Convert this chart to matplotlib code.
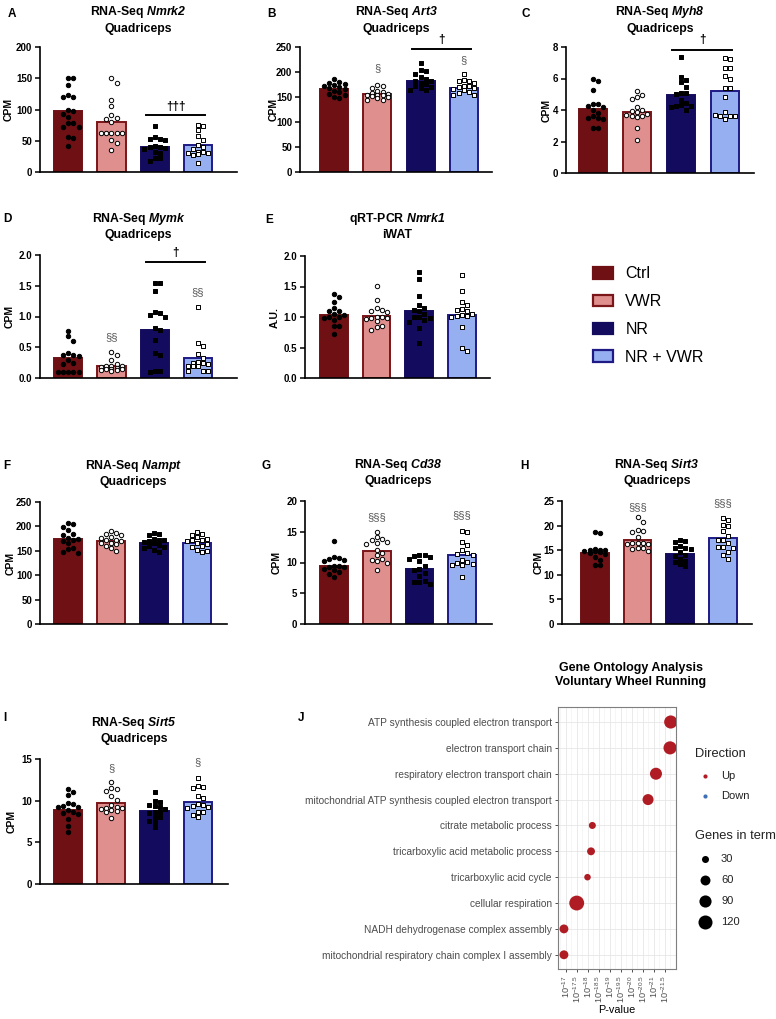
"""
Multi panel figure: bar + scatter plots of gene expression per group (A-I)
and a GO enrichment dot plot for voluntary wheel running (J).
"""
import numpy as np
import matplotlib
matplotlib.use("Agg")
import matplotlib.pyplot as plt
from matplotlib.patches import Patch

plt.rcParams['font.family'] = ['Liberation Sans', 'DejaVu Sans']
plt.rcParams['mathtext.fontset'] = 'custom'
plt.rcParams['mathtext.rm'] = 'Liberation Sans'
plt.rcParams['mathtext.it'] = 'Liberation Sans:italic'
plt.rcParams['mathtext.bf'] = 'Liberation Sans:bold'
plt.rcParams['mathtext.bfit'] = 'Liberation Sans:italic:bold'

groups = ["Ctrl", "VWR", "NR", "NR + VWR"]
bar_fill = ["#6e1014", "#e08f8f", "#120b5e", "#95aff0"]
bar_edge = ["#6e1014", "#7a1519", "#120b5e", "#1f1a85"]
dot_marker = ["o", "o", "s", "s"]
dot_face = ["black", "white", "black", "white"]

# ---- data, order: Ctrl, VWR, NR, NR + VWR ----
nmrk2_bars = [97.5, 80, 40, 42.5]
nmrk2 = [[150, 150, 139, 123, 120, 120, 99, 97, 93, 88, 79, 79, 72, 72, 56, 55, 42],
         [150, 143, 116, 105, 91, 87, 85, 80, 62, 62, 62, 63, 62, 51, 47, 36],
         [73, 56, 53, 53, 51, 42, 40, 40, 38, 37, 32, 30, 22, 22, 18],
         [76, 73, 67, 57, 52, 44, 40, 37, 32, 32, 30, 30, 28, 29, 15]]

art3_bars = [165.5, 156, 183, 169]
art3 = [[186, 181, 178, 177, 175, 172, 170, 168, 166, 163, 160, 157, 154, 150, 149],
        [174, 172, 168, 163, 161, 158, 156, 155, 155, 154, 153, 151, 149, 145, 144],
        [219, 204, 202, 196, 191, 186, 183, 182, 178, 176, 172, 171, 168, 165, 165],
        [196, 184, 182, 182, 179, 172, 172, 170, 168, 166, 164, 161, 159, 155, 155]]

myh8_bars = [4.04, 3.9, 4.98, 5.23]
myh8 = [[5.95, 5.85, 5.3, 4.38, 4.38, 4.25, 4.2, 4.0, 3.8, 3.6, 3.5, 3.47, 3.45, 2.87, 2.87],
        [5.2, 4.95, 4.8, 4.7, 4.2, 4.0, 3.95, 3.85, 3.75, 3.7, 3.65, 3.6, 3.55, 2.85, 2.1],
        [7.35, 6.1, 5.9, 5.75, 5.45, 5.1, 5.05, 5.0, 4.65, 4.45, 4.3, 4.25, 4.25, 4.2, 4.0],
        [7.3, 7.25, 6.65, 6.65, 6.15, 5.95, 5.4, 5.4, 4.8, 3.85, 3.65, 3.62, 3.6, 3.4, 3.7]]

mymk_bars = [0.33, 0.2, 0.78, 0.33]
mymk = [[0.77, 0.68, 0.6, 0.41, 0.38, 0.38, 0.36, 0.3, 0.25, 0.22, 0.1, 0.1, 0.1, 0.1, 0.1],
        [0.42, 0.37, 0.3, 0.23, 0.2, 0.19, 0.19, 0.18, 0.17, 0.15, 0.14, 0.14, 0.13, 0.13, 0.12],
        [1.54, 1.54, 1.42, 1.07, 1.06, 1.03, 1.0, 0.81, 0.78, 0.61, 0.4, 0.38, 0.11, 0.11, 0.1],
        [1.16, 0.57, 0.52, 0.39, 0.33, 0.26, 0.25, 0.24, 0.23, 0.2, 0.19, 0.19, 0.12, 0.11, 0.11]]

nmrk1_bars = [1.03, 1.02, 1.1, 1.04]
nmrk1 = [[1.38, 1.33, 1.25, 1.15, 1.1, 1.1, 1.05, 1.03, 1.0, 1.0, 0.98, 0.95, 0.85, 0.85, 0.72],
         [1.51, 1.28, 1.15, 1.12, 1.1, 1.08, 1.0, 1.0, 0.99, 0.98, 0.97, 0.93, 0.85, 0.83, 0.78],
         [1.73, 1.63, 1.35, 1.2, 1.15, 1.12, 1.1, 1.05, 1.0, 1.0, 0.98, 0.95, 0.92, 0.82, 0.57],
         [1.69, 1.42, 1.25, 1.2, 1.13, 1.12, 1.1, 1.05, 1.03, 1.02, 1.01, 1.0, 0.84, 0.5, 0.44]]

nampt_bars = [175, 170, 167, 165]
nampt = [[206, 205, 199, 192, 184, 182, 177, 175, 172, 171, 165, 155, 154, 147, 146],
         [190, 186, 184, 182, 178, 176, 173, 172, 170, 167, 165, 163, 160, 155, 150],
         [187, 185, 182, 175, 173, 172, 171, 168, 165, 162, 160, 157, 155, 151, 148],
         [189, 185, 183, 178, 175, 173, 172, 171, 165, 163, 160, 157, 152, 150, 148]]

cd38_bars = [9.5, 11.9, 9.0, 11.2]
cd38 = [[13.5, 10.9, 10.7, 10.6, 10.4, 10.2, 9.5, 9.4, 9.3, 9.2, 8.9, 8.8, 8.5, 8.2, 7.6],
        [15.0, 14.1, 13.8, 13.6, 13.4, 13.2, 13.0, 12.1, 11.6, 11.2, 10.5, 10.4, 10.3, 10.0, 8.8],
        [11.3, 11.2, 11.0, 10.9, 10.5, 10.2, 9.4, 9.0, 8.8, 8.3, 7.8, 7.0, 6.9, 6.9, 6.5],
        [15.1, 14.9, 13.4, 12.8, 12.0, 11.5, 11.4, 11.3, 10.4, 10.1, 10.0, 9.7, 9.6, 9.6, 7.7]]

sirt3_bars = [14.5, 17.1, 14.3, 17.4]
sirt3 = [[18.6, 18.5, 15.2, 15.1, 15.0, 15.0, 14.9, 14.8, 14.6, 14.4, 14.2, 13.7, 13.0, 12.0, 11.9],
         [21.7, 20.7, 19.2, 19.0, 18.8, 17.7, 16.5, 16.4, 16.4, 16.3, 16.2, 15.5, 15.4, 15.3, 14.9],
         [17.0, 16.8, 16.7, 15.9, 15.5, 15.4, 15.3, 14.7, 14.0, 13.8, 13.3, 12.8, 12.6, 12.2, 11.7],
         [21.6, 21.1, 20.1, 20.0, 18.9, 17.9, 17.1, 17.0, 16.5, 15.7, 15.6, 15.5, 14.7, 14.0, 13.2]]

sirt5_bars = [8.9, 9.7, 8.8, 9.9]
sirt5 = [[11.4, 11.0, 10.7, 9.7, 9.6, 9.4, 9.3, 9.2, 8.9, 8.6, 8.5, 8.4, 7.8, 7.0, 6.2],
         [12.3, 11.5, 11.4, 11.2, 10.6, 10.1, 9.5, 9.2, 9.1, 9.1, 9.0, 8.9, 8.8, 8.7, 7.9],
         [11.0, 10.0, 9.9, 9.5, 9.4, 9.2, 9.0, 8.7, 8.6, 8.5, 8.1, 8.0, 7.6, 7.5, 6.9],
         [12.7, 11.8, 11.7, 11.5, 10.6, 10.3, 9.6, 9.5, 9.4, 9.2, 9.1, 8.7, 8.6, 8.3, 8.0]]

go_terms = ["ATP synthesis coupled electron transport",
            "electron transport chain",
            "respiratory electron transport chain",
            "mitochondrial ATP synthesis coupled electron transport",
            "citrate metabolic process",
            "tricarboxylic acid metabolic process",
            "tricarboxylic acid cycle",
            "cellular respiration",
            "NADH dehydrogenase complex assembly",
            "mitochondrial respiratory chain complex I assembly"]
go_neglog10_p = [21.76, 21.73, 21.09, 20.73, 18.2, 18.14, 17.98, 17.49, 16.91, 16.91]
go_genes = [105, 105, 88, 74, 30, 38, 26, 135, 48, 48]
go_direction = ["Up"] * 10
go_xticks = [17, 17.5, 18, 18.5, 19, 19.5, 20, 20.5, 21, 21.5]
size_legend = [30, 60, 90, 120]

# ---- layout: pixel boxes (x0, x1, y0, y1) of each bar panel ----
W, H = 776, 1019
panels = [
    dict(letter="A", data=nmrk2, bars=nmrk2_bars, box=(40, 237, 47, 172), xlim=(-0.65, 3.9),
         ymax=200, step=50, fmt="{:.0f}", ylabel="CPM", lx=14,
         title="RNA-Seq $\\mathbfit{Nmrk2}$\nQuadriceps", pad=11, lpos=(8, 8),
         line=(92, "\u2020\u2020\u2020", 104), marks=[]),
    dict(letter="B", data=art3, bars=art3_bars, box=(300, 492, 47, 172), xlim=(-0.79, 3.65),
         ymax=250, step=50, fmt="{:.0f}", ylabel="CPM", lx=279,
         title="RNA-Seq $\\mathbfit{Art3}$\nQuadriceps", pad=11, lpos=(267, 8),
         line=(246, "\u2020", 265), marks=[(1, "\u00a7", 208), (3, "\u00a7", 223)]),
    dict(letter="C", data=myh8, bars=myh8_bars, box=(566, 754, 47, 173), xlim=(-0.61, 3.66),
         ymax=8, step=2, fmt="{:.0f}", ylabel="CPM", lx=552,
         title="RNA-Seq $\\mathbfit{Myh8}$\nQuadriceps", pad=11, lpos=(522, 8),
         line=(7.83, "\u2020", 8.47), marks=[]),
    dict(letter="D", data=mymk, bars=mymk_bars, box=(40, 237, 255, 378), xlim=(-0.65, 3.9),
         ymax=2.0, step=0.5, fmt="{:.1f}", ylabel="CPM", lx=15,
         title="RNA-Seq $\\mathbfit{Mymk}$\nQuadriceps", pad=12, lpos=(3, 213),
         line=(1.89, "\u2020", 2.03), marks=[(1, "\u00a7\u00a7", 0.66), (3, "\u00a7\u00a7", 1.4)]),
    dict(letter="E", data=nmrk1, bars=nmrk1_bars, box=(305, 490, 256, 378), xlim=(-0.68, 3.66),
         ymax=2.0, step=0.5, fmt="{:.1f}", ylabel="A.U.", lx=280,
         title="qRT-PCR $\\mathbfit{Nmrk1}$\niWAT", pad=13, lpos=(265, 214),
         line=None, marks=[]),
    dict(letter="F", data=nampt, bars=nampt_bars, box=(40, 227, 502, 624), xlim=(-0.65, 3.7),
         ymax=250, step=50, fmt="{:.0f}", ylabel="CPM", lx=16,
         title="RNA-Seq $\\mathbfit{Nampt}$\nQuadriceps", pad=12, lpos=(3, 460),
         line=None, marks=[]),
    dict(letter="G", data=cd38, bars=cd38_bars, box=(305, 492, 501, 624), xlim=(-0.68, 3.7),
         ymax=20, step=5, fmt="{:.0f}", ylabel="CPM", lx=282,
         title="RNA-Seq $\\mathbfit{Cd38}$\nQuadriceps", pad=12, lpos=(262, 460),
         line=None, marks=[(1, "\u00a7\u00a7\u00a7", 17.3), (3, "\u00a7\u00a7\u00a7", 17.7)]),
    dict(letter="H", data=sirt3, bars=sirt3_bars, box=(562, 752, 501, 624), xlim=(-0.77, 3.68),
         ymax=25, step=5, fmt="{:.0f}", ylabel="CPM", lx=544,
         title="RNA-Seq $\\mathbfit{Sirt3}$\nQuadriceps", pad=12, lpos=(520, 460),
         line=None, marks=[(1, "\u00a7\u00a7\u00a7", 23.8), (3, "\u00a7\u00a7\u00a7", 24.5)]),
    dict(letter="I", data=sirt5, bars=sirt5_bars, box=(40, 228, 759, 884), xlim=(-0.65, 3.7),
         ymax=15, step=5, fmt="{:.0f}", ylabel="CPM", lx=17,
         title="RNA-Seq $\\mathbfit{Sirt5}$\nQuadriceps", pad=12, lpos=(3, 712),
         line=None, marks=[(1, "\u00a7", 13.9), (3, "\u00a7", 14.6)]),
]


def rect(box):
    x0, x1, y0, y1 = box
    return [x0 / W, 1 - y1 / H, (x1 - x0) / W, (y1 - y0) / H]


def swarm(vals, ymax, h_px, unit_px, step=5.2, limit=13.0):
    # spread points with close values sideways so they do not overlap
    placed = []
    offs = []
    cands = [0.0]
    k = 1
    while k * step <= limit:
        cands += [k * step, -k * step]
        k += 1
    for v in vals:
        y = v / ymax * h_px
        best = None
        for c in cands:
            if all((c - px) ** 2 + (y - py) ** 2 >= (step * 0.95) ** 2 for px, py in placed):
                best = c
                break
        if best is None:
            best = max(cands, key=lambda c: min((c - px) ** 2 + (y - py) ** 2 for px, py in placed))
        placed.append((best, y))
        offs.append(best / unit_px)
    return offs


fig = plt.figure(figsize=(W / 100, H / 100), dpi=100)

for p in panels:
    ax = fig.add_axes(rect(p["box"]))
    x0, x1, y0, y1 = p["box"]
    unit_px = (x1 - x0) / (p["xlim"][1] - p["xlim"][0])
    xs = np.arange(4)
    for i in range(4):
        ax.bar(xs[i], p["bars"][i], width=0.65, color=bar_fill[i], edgecolor=bar_edge[i],
               linewidth=1.4, zorder=2)
        offs = swarm(p["data"][i], p["ymax"], y1 - y0, unit_px)
        ax.scatter(xs[i] + np.array(offs), p["data"][i], s=10, marker=dot_marker[i],
                   facecolor=dot_face[i], edgecolor="black", linewidth=0.7, zorder=3,
                   clip_on=False)
    ax.set_xlim(*p["xlim"])
    ax.set_ylim(0, p["ymax"])
    ticks = np.arange(0, p["ymax"] + p["step"] / 2, p["step"])
    ax.set_yticks(ticks)
    ax.set_yticklabels([p["fmt"].format(t) for t in ticks], fontsize=7, fontweight="bold")
    ax.tick_params(axis="x", bottom=False, labelbottom=False)
    ax.tick_params(axis="y", length=3.5, width=1.1, pad=2)
    for s in ["top", "right"]:
        ax.spines[s].set_visible(False)
    for s in ["left", "bottom"]:
        ax.spines[s].set_linewidth(1.2)
    ax.set_ylabel(p["ylabel"], fontsize=7.5, fontweight="bold")
    ax.yaxis.set_label_coords((p["lx"] - x0) / (x1 - x0), 0.5)
    ax.set_title(p["title"], fontsize=8.8, fontweight="bold", pad=p["pad"], linespacing=1.25)
    if p["line"] is not None:
        ly, txt, ty = p["line"]
        ax.plot([1.8, 3.16], [ly, ly], color="black", lw=1.4, clip_on=False, zorder=4)
        ax.text(2.48, ty, txt, ha="center", va="center", fontsize=8.5, fontweight="bold",
                clip_on=False)
    for gi, txt, ty in p["marks"]:
        ax.text(gi, ty, txt, ha="center", va="center", fontsize=8, color="#555555",
                clip_on=False)
    fig.text(p["lpos"][0] / W, 1 - p["lpos"][1] / H, p["letter"], fontsize=8.5,
             fontweight="bold", va="top", ha="left")

# group legend
handles = [Patch(facecolor=bar_fill[i], edgecolor=bar_edge[i], linewidth=1.6) for i in range(4)]
fig.legend(handles, groups, loc="upper left", bbox_to_anchor=(579 / W, 1 - 252 / H),
           frameon=False, fontsize=11.5, handlelength=1.25, handleheight=0.75,
           labelspacing=0.8, handletextpad=0.75)

# ---- panel J: GO dot plot ----
axj = fig.add_axes(rect((558, 676, 707, 969)))
ypos = np.arange(len(go_terms))
dir_color = {"Up": "#b01c24", "Down": "#3f6fb5"}
axj.scatter(go_neglog10_p, ypos, s=np.array(go_genes) * 0.85,
            c=[dir_color[d] for d in go_direction], zorder=3, linewidth=0)
axj.set_xlim(16.64, 22.0)
axj.set_ylim(9.55, -0.58)
axj.set_yticks(ypos)
axj.set_yticklabels(go_terms, fontsize=7.3, color="#4d4d4d")
axj.set_xticks(go_xticks)
axj.set_xticklabels(["$10^{-%g}$" % t for t in go_xticks], fontsize=6.6, color="#4d4d4d",
                    rotation=90)
axj.set_xticks(np.arange(16.75, 22.0, 0.5), minor=True)
axj.tick_params(which="major", length=2.5, width=0.6, color="#333333", pad=2)
axj.tick_params(which="minor", length=0)
axj.grid(which="major", color="#e6e6e6", lw=0.6, zorder=0)
axj.grid(which="minor", axis="x", color="#efefef", lw=0.4, zorder=0)
axj.set_axisbelow(True)
for s in axj.spines.values():
    s.set_color("#7f7f7f")
    s.set_linewidth(0.8)
axj.set_xlabel("P-value", fontsize=7.8, labelpad=1)
fig.text(631 / W, 1 - 675 / H, "Gene Ontology Analysis\nVoluntary Wheel Running",
         ha="center", va="center", fontsize=9, fontweight="bold", linespacing=1.2)
fig.text(298 / W, 1 - 712 / H, "J", fontsize=8.5, fontweight="bold", va="top", ha="left")

# J legends drawn in pixel coordinates
lg = fig.add_axes(rect((686, 776, 740, 935)))
lg.set_xlim(686, 776)
lg.set_ylim(935, 740)
lg.axis("off")
lg.text(695, 754, "Direction", fontsize=9.3, va="center", color="#222222")
for k, d in enumerate(["Up", "Down"]):
    yy = 776 + 20 * k
    lg.scatter([705], [yy], s=9, color=dir_color[d], linewidth=0)
    lg.text(721, yy, d, fontsize=8, va="center", color="#222222")
lg.text(695, 836, "Genes in term", fontsize=9.3, va="center", color="#222222")
for k, g in enumerate(size_legend):
    yy = 859 + 21 * k
    lg.scatter([705], [yy], s=g * 0.85, color="black", linewidth=0)
    lg.text(721, yy, str(g), fontsize=8, va="center", color="#222222")

fig.savefig("out.png", dpi=100)
